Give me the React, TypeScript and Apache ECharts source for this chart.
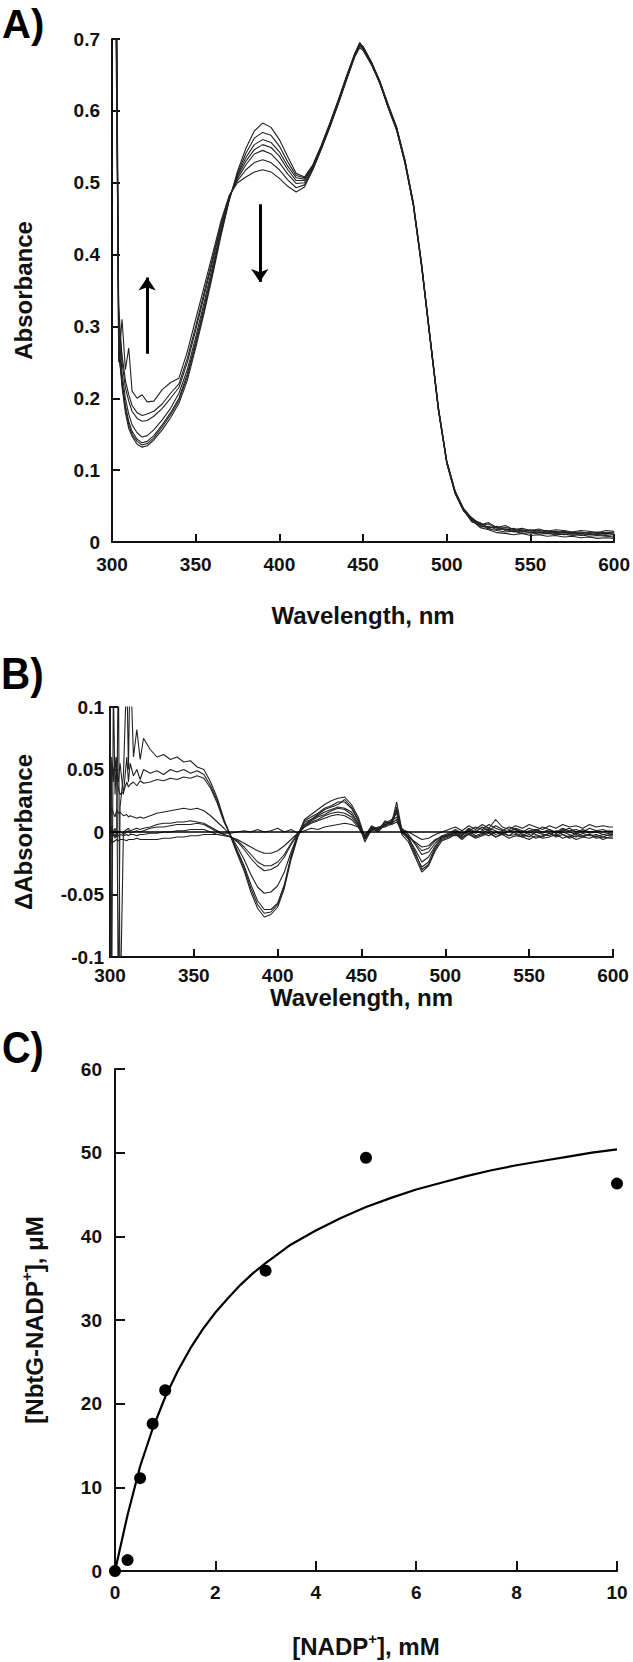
import React, { useEffect, useRef } from "react";
import * as echarts from "echarts";

// ---------- Panel A: absorbance spectra ----------
const A_WL = [300, 302, 304, 306, 308, 310, 312, 315, 318, 321, 325, 330, 335, 340, 345, 350, 355, 360, 365, 370, 375, 380, 385, 390, 395, 400, 405, 410, 415, 420, 425, 430, 435, 440, 445, 448, 450, 455, 460, 465, 470, 475, 480, 485, 490, 495, 500, 505, 510, 515, 520, 525, 530, 535, 540, 545, 550, 555, 560, 565, 570, 575, 580, 585, 590, 595, 600];

const A_C1 = [1.5, 1.1, 0.27, 0.215, 0.18, 0.158, 0.147, 0.136, 0.132, 0.134,
  0.142, 0.156, 0.173, 0.193, 0.225, 0.27, 0.318, 0.37, 0.425, 0.475, 0.516, 0.548, 0.572, 0.583, 0.577, 0.56, 0.536, 0.513, 0.508, 0.525, 0.552, 0.582, 0.614, 0.648, 0.68,
  0.695, 0.689, 0.668, 0.641, 0.608, 0.577, 0.53, 0.472, 0.386, 0.286, 0.186, 0.112, 0.07, 0.046, 0.03, 0.02, 0.017, 0.013, 0.012, 0.01, 0.012, 0.009, 0.01, 0.008, 0.009, 0.007, 0.008, 0.006, 0.007, 0.005, 0.006, 0.005];
const A_C2 = [1.5, 1.0, 0.29, 0.22, 0.186, 0.163, 0.15, 0.14, 0.135, 0.137,
  0.145, 0.16, 0.177, 0.197, 0.23, 0.275, 0.322, 0.374, 0.428, 0.476, 0.513, 0.541, 0.562, 0.57, 0.566, 0.551, 0.529, 0.51, 0.507, 0.524, 0.551, 0.581, 0.613, 0.647, 0.679,
  0.692, 0.687, 0.666, 0.639, 0.606, 0.575, 0.528, 0.469, 0.383, 0.283, 0.184, 0.11, 0.068, 0.044, 0.028, 0.024, 0.018, 0.016, 0.014, 0.015, 0.012, 0.013, 0.011, 0.012, 0.01, 0.011, 0.009, 0.01, 0.008, 0.009, 0.008, 0.007];
const A_C3 = [1.5, 0.95, 0.26, 0.225, 0.19, 0.168, 0.154, 0.143, 0.138, 0.14,
  0.148, 0.163, 0.18, 0.2, 0.234, 0.279, 0.327, 0.378, 0.431, 0.477, 0.511, 0.535, 0.553, 0.56, 0.556, 0.543, 0.523, 0.507, 0.505, 0.523, 0.55, 0.58, 0.612, 0.646, 0.678,
  0.69, 0.686, 0.665, 0.64, 0.605, 0.574, 0.529, 0.47, 0.384, 0.284, 0.185, 0.111, 0.069, 0.045, 0.031, 0.021, 0.022, 0.017, 0.018, 0.014, 0.016, 0.013, 0.014, 0.012, 0.013, 0.01, 0.012, 0.009, 0.011, 0.01, 0.009, 0.01];
const A_C4 = [1.5, 0.9, 0.3, 0.235, 0.2, 0.178, 0.163, 0.152, 0.146, 0.148,
  0.156, 0.17, 0.186, 0.207, 0.24, 0.285, 0.333, 0.383, 0.434, 0.478, 0.509, 0.53, 0.546, 0.553, 0.549, 0.537, 0.518, 0.503, 0.503, 0.522, 0.549, 0.579, 0.611, 0.645, 0.678,
  0.694, 0.688, 0.667, 0.638, 0.607, 0.576, 0.531, 0.471, 0.385, 0.285, 0.186, 0.112, 0.07, 0.046, 0.032, 0.026, 0.02, 0.021, 0.017, 0.016, 0.015, 0.016, 0.013, 0.014, 0.012, 0.013, 0.011, 0.012, 0.01, 0.011, 0.012, 0.011];
const A_C5 = [1.5, 0.85, 0.33, 0.25, 0.215, 0.196, 0.182, 0.172, 0.168, 0.169,
  0.175, 0.186, 0.2, 0.215, 0.25, 0.295, 0.342, 0.39, 0.439, 0.48, 0.506, 0.525, 0.54, 0.545, 0.54, 0.528, 0.512, 0.499, 0.5, 0.52, 0.548, 0.578, 0.61, 0.644, 0.677,
  0.691, 0.69, 0.668, 0.642, 0.609, 0.578, 0.532, 0.473, 0.387, 0.287, 0.188, 0.113, 0.071, 0.047, 0.033, 0.023, 0.025, 0.019, 0.02, 0.018, 0.017, 0.015, 0.016, 0.014, 0.015, 0.013, 0.014, 0.012, 0.013, 0.012, 0.011, 0.013];
const A_C6 = [1.5, 0.8, 0.31, 0.26, 0.225, 0.205, 0.19, 0.18, 0.176, 0.178,
  0.182, 0.192, 0.207, 0.22, 0.256, 0.3, 0.347, 0.394, 0.442, 0.481, 0.503, 0.518, 0.528, 0.532, 0.528, 0.518, 0.504, 0.493, 0.497, 0.519, 0.547, 0.577, 0.609, 0.643, 0.676,
  0.693, 0.688, 0.667, 0.64, 0.606, 0.576, 0.53, 0.47, 0.384, 0.284, 0.185, 0.111, 0.069, 0.045, 0.029, 0.027, 0.019, 0.022, 0.016, 0.019, 0.014, 0.017, 0.015, 0.016, 0.013, 0.015, 0.013, 0.014, 0.012, 0.014, 0.013, 0.014];
const A_C7 = [1.5, 0.9, 0.25, 0.31, 0.24, 0.27, 0.21, 0.2, 0.205, 0.195,
  0.196, 0.212, 0.222, 0.228, 0.265, 0.31, 0.355, 0.4, 0.446, 0.482, 0.5, 0.508, 0.515, 0.518, 0.515, 0.506, 0.495, 0.487, 0.494, 0.518, 0.546, 0.576, 0.608, 0.642, 0.675,
  0.688, 0.684, 0.664, 0.638, 0.604, 0.573, 0.527, 0.468, 0.382, 0.282, 0.183, 0.109, 0.067, 0.043, 0.034, 0.024, 0.027, 0.02, 0.023, 0.017, 0.019, 0.016, 0.018, 0.015, 0.017, 0.016, 0.014, 0.016, 0.015, 0.013, 0.016, 0.015];
const A_SPECTRA = [A_C1, A_C2, A_C3, A_C4, A_C5, A_C6, A_C7];

// arrows: [wavelength, from, to]
const A_ARROWS = [
  [321, 0.262, 0.368],
  [388.3, 0.47, 0.362],
];

// ---------- Panel B: difference spectra ----------
const B_WL = [300, 301, 302, 303, 304, 305, 306, 308, 310, 311, 312, 314, 316, 318, 320,
  324, 328, 332, 336, 340, 344, 348, 352, 356, 360, 364, 368, 372, 376, 380, 384, 388, 392, 396, 400, 404, 408, 412, 416, 420, 424, 428, 432, 436, 440, 444, 448, 452, 456, 460, 464, 468,
  471, 474, 478, 482, 486, 490, 494, 498, 502, 506, 510, 514, 518, 522, 526, 530, 534, 538, 542, 546, 550, 554, 558, 562, 566, 570, 574, 578, 582, 586, 590, 594, 598, 600];

const B_D1 = [0.15, -0.15, 0.12, 0.03, 0.06, -0.15, 0.02, 0.045, 0.13, 0.05, 0.14, 0.06, 0.082, 0.058, 0.075,
  0.066, 0.06, 0.062, 0.058, 0.06, 0.056, 0.057, 0.052, 0.05, 0.04, 0.027, 0.01, -0.004, -0.018, -0.031, -0.048, -0.061, -0.068, -0.066, -0.06, -0.045, -0.022, -0.004, 0.008, 0.01, 0.014, 0.018, 0.02, 0.022, 0.026, 0.02, 0.01, -0.005, 0.003, 0.0, 0.006, 0.008,
  0.02, 0.0, -0.006, -0.018, -0.028, -0.024, -0.012, -0.006, -0.004, -0.001, -0.005, 0.001, -0.003, -0.001, 0.002, -0.002, 0.0, -0.003, 0.001, -0.002, -0.004, 0.0, -0.002, -0.003, 0.001, -0.002, -0.004, -0.001, -0.003, -0.002, -0.004, -0.002, -0.003, -0.003];
const B_D2 = [-0.15, 0.06, 0.045, 0.055, 0.05, 0.04, 0.055, 0.03, 0.06, 0.04, 0.055, 0.045, 0.05, 0.042, 0.05,
  0.047, 0.049, 0.046, 0.05, 0.048, 0.05, 0.047, 0.049, 0.046, 0.037, 0.025, 0.009, -0.003, -0.016, -0.029, -0.045, -0.058, -0.065, -0.064, -0.058, -0.043, -0.02, -0.003, 0.01, 0.014, 0.018, 0.022, 0.025, 0.027, 0.028, 0.022, 0.012, -0.004, 0.004, 0.002, 0.008, 0.007,
  0.024, 0.002, -0.004, -0.016, -0.03, -0.026, -0.014, -0.004, -0.002, 0.0, -0.003, 0.002, -0.001, 0.001, 0.003, 0.001, -0.002, 0.001, 0.002, -0.001, 0.001, 0.002, -0.001, 0.001, -0.001, 0.002, 0.0, -0.002, 0.001, -0.001, 0.0, -0.002, -0.001, -0.001];
const B_D3 = [0.05, 0.055, 0.04, 0.06, 0.045, 0.035, 0.03, 0.032, 0.04, 0.036, 0.038, 0.04, 0.037, 0.041, 0.039,
  0.04, 0.042, 0.041, 0.043, 0.042, 0.044, 0.043, 0.045, 0.043, 0.035, 0.023, 0.008, -0.003, -0.015, -0.027, -0.042, -0.055, -0.062, -0.062, -0.057, -0.042, -0.019, -0.002, 0.009, 0.012, 0.015, 0.019, 0.021, 0.024, 0.024, 0.019, 0.009, -0.008, 0.002, 0.001, 0.009, 0.006,
  0.018, -0.002, -0.008, -0.02, -0.032, -0.027, -0.015, -0.007, -0.005, -0.002, -0.006, -0.001, -0.004, -0.002, 0.0, -0.004, -0.001, -0.003, -0.002, -0.004, -0.002, -0.005, -0.003, -0.001, -0.004, -0.002, -0.005, -0.003, -0.004, -0.002, -0.005, -0.004, -0.005, -0.005];
const B_D4 = [0.01, 0.02, 0.015, 0.012, 0.018, 0.015, 0.016, 0.013, 0.014, 0.012, 0.013, 0.012, 0.011, 0.012, 0.011,
  0.013, 0.015, 0.016, 0.017, 0.018, 0.019, 0.018, 0.019, 0.017, 0.013, 0.008, 0.003, -0.003, -0.012, -0.022, -0.034, -0.044, -0.049, -0.048, -0.043, -0.032, -0.016, -0.002, 0.006, 0.01, 0.013, 0.016, 0.018, 0.02, 0.019, 0.016, 0.007, -0.004, 0.004, 0.003, 0.007, 0.01,
  0.015, 0.001, -0.005, -0.014, -0.024, -0.02, -0.011, -0.005, -0.003, 0.001, -0.002, 0.003, 0.0, 0.004, 0.001, 0.005, 0.002, 0.0, 0.003, 0.001, -0.001, 0.002, 0.0, 0.002, -0.001, 0.001, 0.003, 0.0, 0.002, 0.0, 0.001, 0.0, 0.001, 0.0];
const B_D5 = [-0.01, 0.005, 0.0, -0.005, 0.0, 0.15, -0.15, 0.0, 0.002, 0.003, 0.001, 0.002, 0.003, 0.002, 0.003,
  0.004, 0.006, 0.007, 0.007, 0.008, 0.008, 0.009, 0.008, 0.007, 0.004, 0.001, -0.002, -0.004, -0.008, -0.014, -0.021, -0.027, -0.031, -0.03, -0.027, -0.02, -0.01, -0.002, 0.004, 0.008, 0.01, 0.013, 0.015, 0.016, 0.015, 0.012, 0.005, -0.006, 0.002, 0.004, 0.005, 0.009,
  0.012, 0.0, -0.003, -0.01, -0.018, -0.016, -0.009, -0.004, -0.002, -0.003, 0.0, -0.002, 0.001, -0.001, -0.003, 0.0, -0.002, 0.001, -0.001, -0.003, 0.0, -0.002, -0.004, -0.001, -0.003, 0.0, -0.002, -0.004, -0.001, -0.003, -0.002, -0.004, -0.002, -0.002];
const B_D6 = [0.005, -0.01, 0.0, 0.003, -0.003, 0.0, 0.001, -0.002, 0.0, 0.001, -0.001, 0.0, 0.001, 0.0, 0.001,
  0.003, 0.004, 0.004, 0.005, 0.006, 0.006, 0.006, 0.007, 0.006, 0.003, 0.0, -0.002, -0.004, -0.007, -0.012, -0.018, -0.024, -0.027, -0.027, -0.024, -0.018, -0.009, -0.001, 0.005, 0.009, 0.012, 0.014, 0.017, 0.019, 0.018, 0.014, 0.006, -0.003, 0.005, 0.002, 0.006, 0.008,
  0.016, 0.003, -0.002, -0.009, -0.015, -0.013, -0.007, -0.003, -0.001, 0.002, -0.001, 0.001, 0.004, 0.002, 0.006, 0.003, 0.001, 0.004, 0.002, 0.0, 0.003, 0.001, 0.004, 0.002, 0.0, 0.003, 0.001, 0.002, 0.0, 0.003, 0.001, 0.002, 0.0, 0.001];
const B_D7 = [-0.005, 0.0, -0.003, -0.002, -0.004, -0.003, -0.002, -0.003, -0.002, -0.003, -0.002, -0.002, -0.003, -0.002, -0.002,
  -0.001, -0.001, 0.0, 0.0, 0.001, 0.001, 0.002, 0.002, 0.002, 0.0, -0.002, -0.003, -0.004, -0.006, -0.009, -0.012, -0.015, -0.017, -0.017, -0.015, -0.011, -0.006, -0.001, 0.004, 0.007, 0.009, 0.011, 0.013, 0.014, 0.013, 0.01, 0.004, -0.005, 0.001, 0.003, 0.004, 0.007,
  0.01, -0.001, -0.004, -0.008, -0.012, -0.011, -0.006, -0.004, -0.003, -0.001, -0.004, -0.002, -0.005, -0.003, -0.001, -0.004, -0.002, -0.005, -0.003, -0.004, -0.006, -0.003, -0.005, -0.004, -0.002, -0.005, -0.003, -0.006, -0.004, -0.005, -0.003, -0.006, -0.004, -0.004];
const B_D8 = [-0.01, -0.006, -0.008, -0.007, -0.006, -0.007, -0.006, -0.006, -0.007, -0.006, -0.006, -0.006, -0.005, -0.006, -0.006,
  -0.006, -0.006, -0.005, -0.005, -0.004, -0.004, -0.003, -0.003, -0.002, -0.002, -0.002, -0.001, -0.001, 0.0, 0.001, 0.0, 0.002, 0.0, 0.001, 0.003, 0.0, 0.002, -0.001, 0.001, 0.003, 0.002, 0.004, 0.005, 0.006, 0.007, 0.006, 0.004, -0.002, 0.003, 0.002, 0.005, 0.006,
  0.008, 0.002, 0.0, -0.003, -0.006, -0.005, -0.002, 0.0, 0.002, 0.004, 0.001, 0.005, 0.002, 0.006, 0.003, 0.01, 0.004, 0.002, 0.005, 0.003, 0.006, 0.004, 0.002, 0.005, 0.003, 0.006, 0.004, 0.005, 0.003, 0.006, 0.004, 0.005, 0.004, 0.004];
const B_SPECTRA = [B_D1, B_D2, B_D3, B_D4, B_D5, B_D6, B_D7, B_D8];
const B_BASELINE_WL = [300, 600];
const B_BASELINE = [0, 0];

// ---------- Panel C: binding titration ----------
const C_NADP = [0, 0.25, 0.5, 0.75, 1, 3, 5, 10];
const C_BOUND = [0, 1.3, 11.1, 17.6, 21.6, 35.9, 49.4, 46.3];
const C_FIT_X = [0, 0.25, 0.5, 0.75, 1, 1.25, 1.5, 1.75, 2, 2.25, 2.5, 2.75, 3, 3.5, 4, 4.5, 5, 5.5, 6, 6.5, 7, 7.5, 8, 8.5, 9, 9.5, 10];
const C_FIT_Y = [0, 6.7, 12.5, 17.0, 20.8, 23.9, 26.6, 28.9, 30.9, 32.6, 34.2, 35.6, 36.8, 39.0, 40.7, 42.2, 43.5, 44.6, 45.6, 46.4, 47.2, 47.9, 48.5, 49.0, 49.5, 50.0, 50.4];

const FONT = "'Liberation Sans', Arial, sans-serif";
const INK = "#111";

function zip(xs: number[], ys: number[]) {
  const n = Math.min(xs.length, ys.length);
  const out: number[][] = [];
  for (let i = 0; i < n; i++) out.push([xs[i], ys[i]]);
  return out;
}

function axisCommon(labelSize: number, margin: number, tickLen: number) {
  return {
    axisLine: { onZero: false, lineStyle: { color: INK, width: 2 } },
    axisTick: { inside: true, length: tickLen, lineStyle: { color: INK, width: 2 } },
    axisLabel: { margin, fontSize: labelSize, fontWeight: "bold", fontFamily: FONT, color: INK },
    splitLine: { show: false },
  };
}

function buildOption() {
  const series: any[] = [];
  A_SPECTRA.forEach((vals, i) => {
    const s: any = {
      type: "line", xAxisIndex: 0, yAxisIndex: 0, data: zip(A_WL, vals),
      showSymbol: false, symbol: "none", lineStyle: { color: "#222", width: 1.1 }, silent: true, z: 2,
    };
    if (i === 0) {
      s.markLine = {
        silent: true, symbol: ["none", "arrow"], symbolSize: 13, label: { show: false },
        lineStyle: { color: "#000", width: 3, type: "solid" },
        data: A_ARROWS.map((a) => [{ coord: [a[0], a[1]] }, { coord: [a[0], a[2]] }]),
      };
    }
    series.push(s);
  });
  B_SPECTRA.forEach((vals) => {
    series.push({
      type: "line", xAxisIndex: 1, yAxisIndex: 1, data: zip(B_WL, vals),
      showSymbol: false, symbol: "none", lineStyle: { color: "#222", width: 1.1 }, silent: true,
    });
  });
  series.push({
    type: "line", xAxisIndex: 1, yAxisIndex: 1, data: zip(B_BASELINE_WL, B_BASELINE),
    showSymbol: false, symbol: "none", lineStyle: { color: "#000", width: 1.5 }, silent: true,
  });
  series.push({
    type: "line", xAxisIndex: 2, yAxisIndex: 2, data: zip(C_FIT_X, C_FIT_Y),
    showSymbol: false, symbol: "none", smooth: false,
    lineStyle: { color: "#000", width: 2.2 }, silent: true,
  });
  series.push({
    type: "scatter", xAxisIndex: 2, yAxisIndex: 2, data: zip(C_NADP, C_BOUND),
    symbol: "circle", symbolSize: 12, itemStyle: { color: "#000", opacity: 1 }, silent: true, z: 5,
  });

  const titleA = { fontSize: 24, fontWeight: "bold", fontFamily: FONT, color: INK };
  const titleC = {
    fontSize: 24, fontWeight: "bold", fontFamily: FONT, color: INK, lineHeight: 30,
    rich: { sup: { fontSize: 15, fontWeight: "bold", fontFamily: FONT, color: INK, verticalAlign: "top", lineHeight: 15 } },
  };

  return {
    animation: false,
    backgroundColor: "#fff",
    grid: [
      { left: 112, top: 39, width: 503, height: 503 },
      { left: 110, top: 707, width: 503, height: 250 },
      { left: 115, top: 1069, width: 502, height: 504 },
    ],
    xAxis: [
      { gridIndex: 0, type: "value", min: 300, max: 600, interval: 50, name: "Wavelength, nm", nameLocation: "middle", nameGap: 61, nameTextStyle: titleA, ...axisCommon(19, 13, 8) },
      { gridIndex: 1, type: "value", min: 300, max: 600, interval: 50, name: "Wavelength, nm", nameLocation: "middle", nameGap: 26, nameTextStyle: titleA, ...axisCommon(19, 9, 8) },
      { gridIndex: 2, type: "value", min: 0, max: 10, interval: 2, name: "[NADP{sup|+}], mM", nameLocation: "middle", nameGap: 60, nameTextStyle: titleC, ...axisCommon(19, 12, 10) },
    ],
    yAxis: [
      { gridIndex: 0, type: "value", min: 0, max: 0.7, interval: 0.1, name: "Absorbance", nameLocation: "middle", nameGap: 77, nameTextStyle: titleA, ...axisCommon(19, 12, 8) },
      { gridIndex: 1, type: "value", min: -0.1, max: 0.1, interval: 0.05, name: "ΔAbsorbance", nameLocation: "middle", nameGap: 75, nameTextStyle: titleA, ...axisCommon(19, 6, 8) },
      { gridIndex: 2, type: "value", min: 0, max: 60, interval: 10, name: "[NbtG-NADP{sup|+}], μM", nameLocation: "middle", nameGap: 66, nameTextStyle: titleC, ...axisCommon(19, 13, 10) },
    ],
    series,
    graphic: [
      { type: "text", x: 2, y: 4, style: { text: "A)", font: `bold 40px ${FONT}`, fill: "#000" } },
      { type: "text", x: 1, y: 652, scaleX: 0.92, style: { text: "B)", font: `bold 44px ${FONT}`, fill: "#000" } },
      { type: "text", x: 2, y: 1026, scaleX: 0.9, style: { text: "C)", font: `bold 44px ${FONT}`, fill: "#000" } },
    ],
  };
}

export default function App() {
  const ref = useRef<HTMLDivElement>(null);
  useEffect(() => {
    document.body.style.margin = "0";
    const chart = echarts.init(ref.current!, null, { renderer: "svg" });
    chart.setOption(buildOption() as any);
    return () => chart.dispose();
  }, []);
  return <div ref={ref} style={{ width: 633, height: 1662, background: "#fff" }} />;
}
